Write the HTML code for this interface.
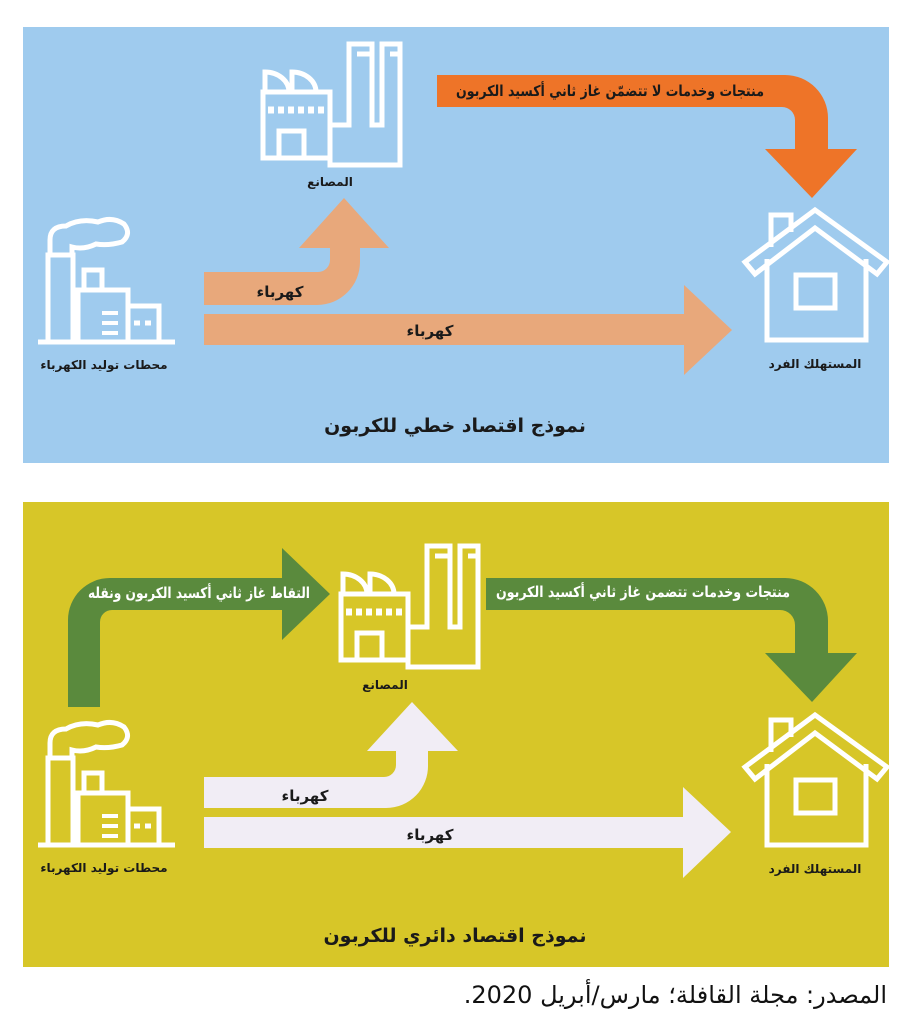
<!DOCTYPE html>
<html><head><meta charset="utf-8"><style>
html,body{margin:0;padding:0;background:#fff;width:912px;height:1024px;overflow:hidden}
svg{display:block}
text{font-family:"DejaVu Sans","Liberation Sans",sans-serif;font-weight:bold;direction:rtl}
</style></head><body>
<svg width="912" height="1024" viewBox="0 0 912 1024" xmlns="http://www.w3.org/2000/svg">
<defs>
<g id="factory" fill="none" stroke="#fff" stroke-width="5">
  <rect x="263" y="92" width="67" height="66"/>
  <path d="M265,92 V72 A24,20 0 0 1 289,92 M292,92 V72 A24,20 0 0 1 316,92"/>
  <line x1="268" y1="110" x2="325" y2="110" stroke-width="7" stroke-dasharray="6,4"/>
  <rect x="279" y="131" width="25" height="27"/>
  <path d="M330,125 H349 V44 H372 V125 H382 V44 H400 V165 H330 Z"/>
  <path d="M357,54 H372 M390,54 H400"/>
</g>
<g id="plant" fill="none" stroke="#fff" stroke-width="5">
  <line x1="38" y1="342" x2="175" y2="342"/>
  <rect x="48" y="255" width="25" height="87"/>
  <path d="M50,255 V240 Q50,226 66,226 Q80,218 98,222 Q112,216 124,224 Q132,234 122,242 Q108,246 96,244 Q84,250 72,247 V254"/>
  <rect x="84" y="270" width="18" height="20"/>
  <rect x="78" y="290" width="50" height="52"/>
  <path d="M102,313 H118 M102,323 H118 M102,333 H118" stroke-width="4"/>
  <rect x="128" y="306" width="31" height="36"/>
  <path d="M134,323 H140 M145,323 H151" stroke-width="5"/>
</g>
<g id="house" fill="none" stroke="#fff" stroke-width="5">
  <path d="M745,262 L815,210 L887,262 L877,274 L815,228 L755,274 Z"/>
  <path d="M767,259 V340 H866 V259"/>
  <rect x="796" y="275" width="39" height="33"/>
  <path d="M771,247 V215 H791 V232"/>
</g>
</defs>

<!-- top panel -->
<rect x="23" y="27" width="866" height="436" fill="#9fcbee"/>
<path d="M437,75 H785 A43,43 0 0 1 828,118 V149 H857 L812,198 L765,149 H795 V120 A13,13 0 0 0 782,107 H437 Z" fill="#ee7428"/>
<path d="M204,272 H318 A12,12 0 0 0 330,260 V248 H299 L344,198 L389,248 H360 V262 A43,43 0 0 1 317,305 H204 Z" fill="#e8a87b"/>
<path d="M204,314 H684 V285 L732,330 L684,375 V345 H204 Z" fill="#e8a87b"/>
<use href="#factory"/>
<use href="#plant"/>
<use href="#house"/>
<text x="610" y="96" font-size="15" text-anchor="middle" fill="#1a1a1a" textLength="308" lengthAdjust="spacingAndGlyphs">منتجات وخدمات لا تتضمّن غاز ثاني أكسيد الكربون</text>
<text x="330" y="186" font-size="12" text-anchor="middle" fill="#1a1a1a">المصانع</text>
<text x="280" y="297" font-size="15" text-anchor="middle" fill="#1a1a1a">كهرباء</text>
<text x="430" y="336" font-size="15" text-anchor="middle" fill="#1a1a1a">كهرباء</text>
<text x="104" y="369" font-size="12" text-anchor="middle" fill="#1a1a1a">محطات توليد الكهرباء</text>
<text x="815" y="368" font-size="12" text-anchor="middle" fill="#1a1a1a">المستهلك الفرد</text>
<text x="455" y="432" font-size="19" text-anchor="middle" fill="#1a1a1a">نموذج اقتصاد خطي للكربون</text>

<!-- bottom panel -->
<rect x="23" y="502" width="866" height="465" fill="#d7c628"/>
<path d="M68,707 V620 A42,42 0 0 1 110,578 H282 V548 L330,594 L282,640 V610 H112 A12,12 0 0 0 100,622 V707 Z" fill="#5a8a3d"/>
<path d="M486,578 H785 A43,43 0 0 1 828,621 V653 H857 L812,702 L765,653 H795 V625 A15,15 0 0 0 780,610 H486 Z" fill="#5a8a3d"/>
<path d="M204,777 H384 A12,12 0 0 0 396,765 V751 H367 L412,702 L458,751 H428 V765 A42,42 0 0 1 386,808 H204 Z" fill="#f1edf5"/>
<path d="M204,817 H683 V787 L731,832 L683,878 V848 H204 Z" fill="#f1edf5"/>
<use href="#factory" transform="translate(78,502)"/>
<use href="#plant" transform="translate(0,503)"/>
<use href="#house" transform="translate(0,505)"/>
<text x="199" y="598" font-size="15" text-anchor="middle" fill="#fff" textLength="222" lengthAdjust="spacingAndGlyphs">التقاط غاز ثاني أكسيد الكربون ونقله</text>
<text x="643" y="597" font-size="15" text-anchor="middle" fill="#fff" textLength="294" lengthAdjust="spacingAndGlyphs">منتجات وخدمات تتضمن غاز ثاني أكسيد الكربون</text>
<text x="385" y="689" font-size="12" text-anchor="middle" fill="#1a1a1a">المصانع</text>
<text x="305" y="801" font-size="15" text-anchor="middle" fill="#1a1a1a">كهرباء</text>
<text x="430" y="840" font-size="15" text-anchor="middle" fill="#1a1a1a">كهرباء</text>
<text x="104" y="872" font-size="12" text-anchor="middle" fill="#1a1a1a">محطات توليد الكهرباء</text>
<text x="815" y="873" font-size="12" text-anchor="middle" fill="#1a1a1a">المستهلك الفرد</text>
<text x="455" y="942" font-size="19" text-anchor="middle" fill="#1a1a1a">نموذج اقتصاد دائري للكربون</text>

<text x="887" y="1003" font-size="24" text-anchor="start" fill="#111" style="font-weight:normal">المصدر: مجلة القافلة؛ مارس/أبريل 2020.</text>
</svg>
</body></html>
